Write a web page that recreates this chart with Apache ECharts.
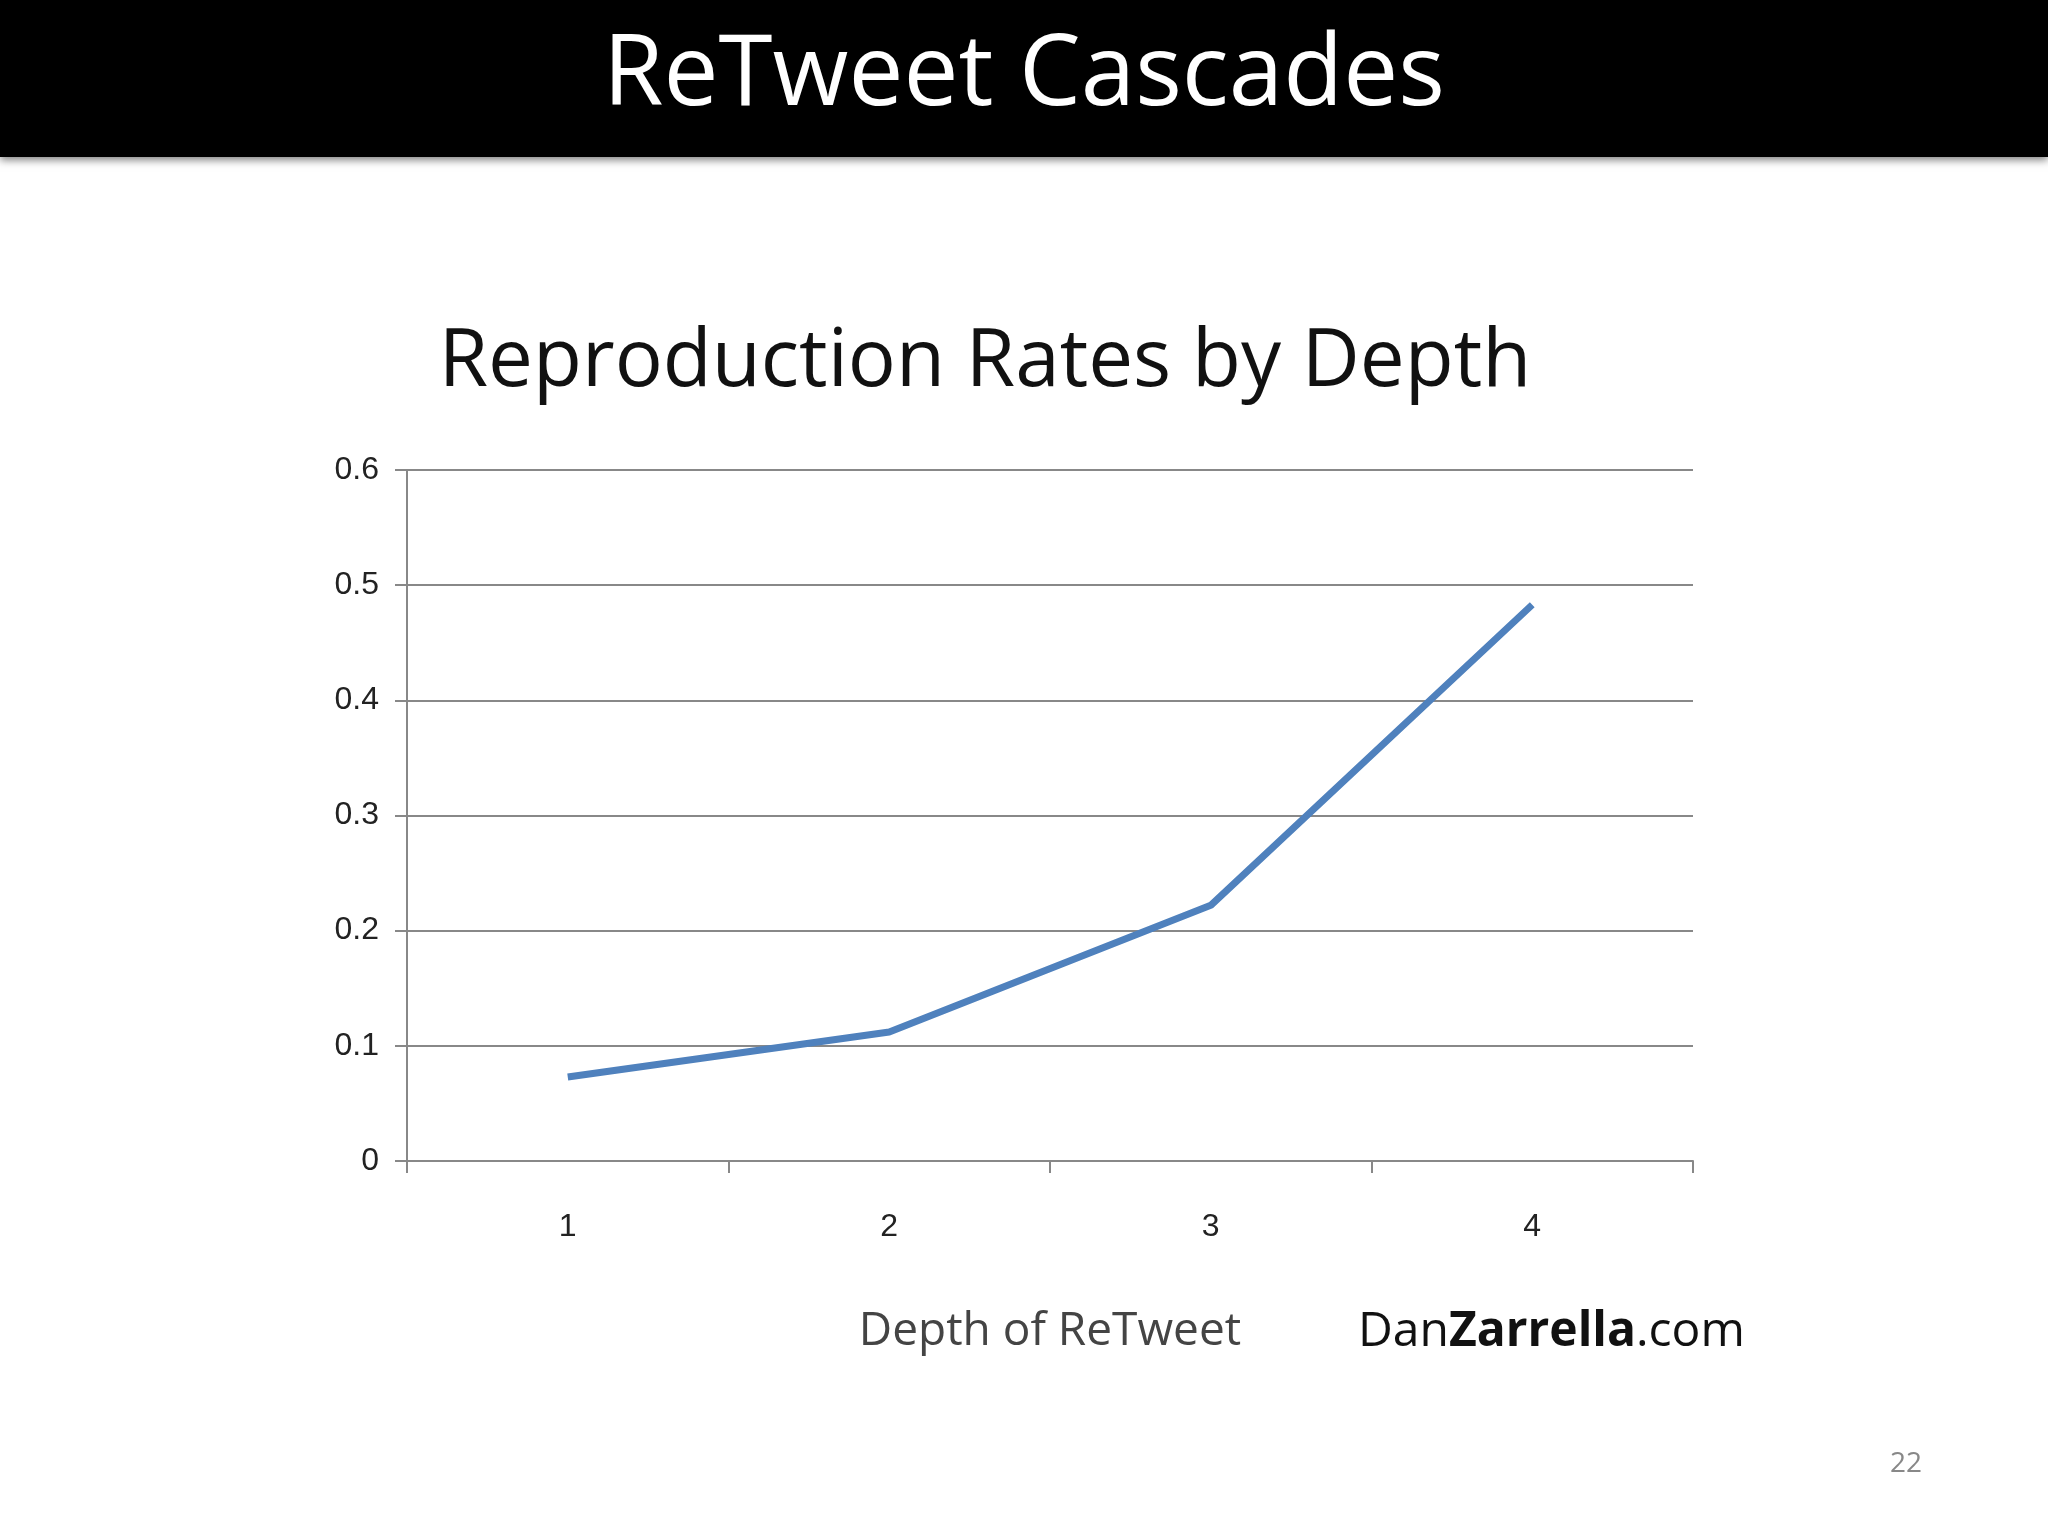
<!DOCTYPE html>
<html><head><meta charset="utf-8">
<script src="https://cdn.jsdelivr.net/npm/echarts@6/dist/echarts.min.js"></script>
<style>html,body{margin:0;padding:0;background:#fff}#c{width:2048px;height:1536px}</style>
</head><body><div id="c"></div>
<script>
const categories = ['1','2','3','4'];
const rates = [0.073, 0.112, 0.222, 0.483];
const yTicks = [0, 0.1, 0.2, 0.3, 0.4, 0.5, 0.6];
const chart = echarts.init(document.getElementById('c'));
chart.setOption({
  backgroundColor:'#fff',
  graphic:[
    {type:'rect',left:0,top:0,shape:{width:2048,height:157},style:{fill:'#000',shadowBlur:8,shadowColor:'rgba(0,0,0,0.5)',shadowOffsetY:3}},
    {type:'text',left:'center',top:28,style:{text:'ReTweet Cascades',fill:'#fff',font:'98px "Open Sans", sans-serif'}},
    {type:'text',left:1358,top:1308,style:{rich:{a:{font:'48px "Open Sans", sans-serif',fill:'#111'},b:{font:'bold 48px "Open Sans", sans-serif',fill:'#111'}},text:'{a|Dan}{b|Zarrella}{a|.com}'}},
    {type:'text',left:1890,top:1450,style:{text:'22',fill:'#888',font:'28px "Open Sans", sans-serif'}}
  ],
  title:{text:'Reproduction Rates by Depth',left:980,textAlign:'center',top:318,textStyle:{fontSize:80,fontWeight:'normal',color:'#111',fontFamily:'"Open Sans", sans-serif'}},
  grid:{left:407,right:355,top:470,bottom:375},
  xAxis:{type:'category',data:categories,boundaryGap:true,
    name:'Depth of ReTweet',nameLocation:'middle',nameGap:148,
    nameTextStyle:{fontSize:46,color:'#444',fontFamily:'"Open Sans", sans-serif'},
    axisLine:{lineStyle:{color:'#888',width:2}},
    axisTick:{show:true,length:12,lineStyle:{color:'#888',width:2}},
    axisLabel:{fontSize:32,color:'#222',margin:50}},
  yAxis:{type:'value',min:0,max:0.6,interval:0.1,
    axisLine:{show:true,lineStyle:{color:'#888',width:2}},
    axisTick:{show:true,length:12,lineStyle:{color:'#888',width:2}},
    axisLabel:{fontSize:32,color:'#222',margin:28,formatter:v=>yTicks.includes(+v.toFixed(1))?String(+v.toFixed(1)):''},
    splitLine:{lineStyle:{color:'#888',width:2}}},
  series:[{type:'line',data:rates,symbol:'none',lineStyle:{color:'#4f81bd',width:7}}]
});
</script></body></html>
